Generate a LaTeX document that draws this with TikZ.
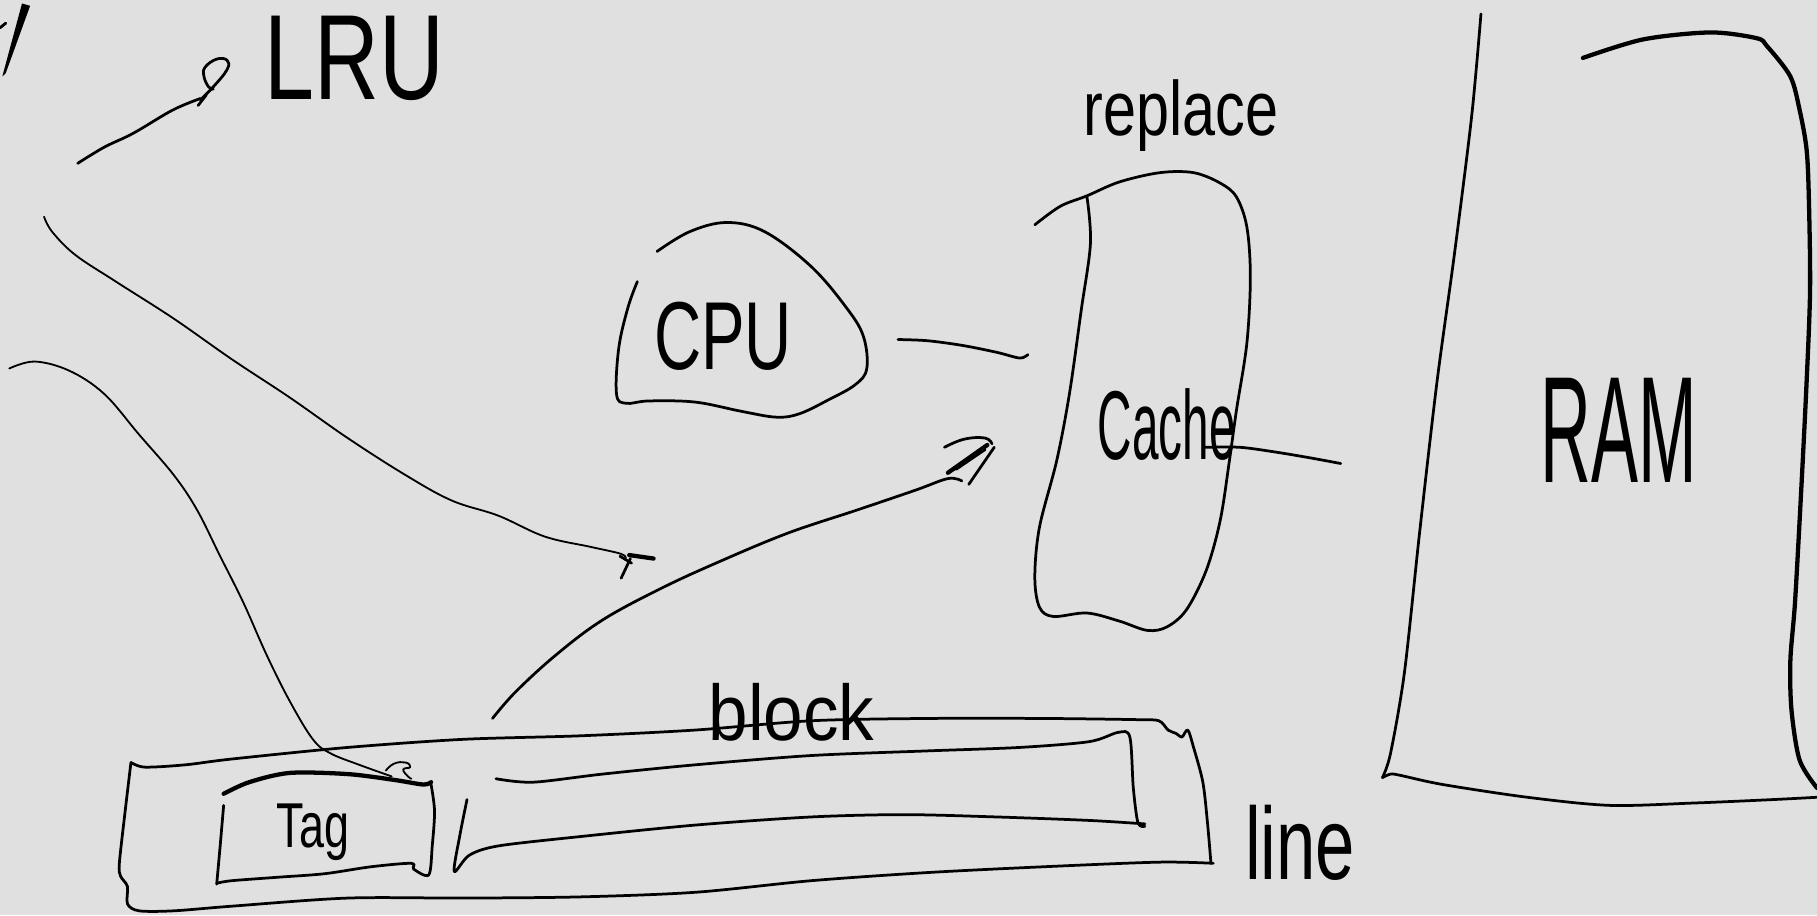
\documentclass[tikz,border=0pt]{standalone}
\usepackage{fontspec}
\setmainfont{Liberation Sans}
\usepackage{graphicx}
\definecolor{paper}{RGB}{224,224,224}
\tikzset{
  ink/.style={line width=1.35pt, line cap=round, line join=round},
  thinink/.style={line width=0.9pt, line cap=round, line join=round},
  thickink/.style={line width=2.1pt, line cap=round, line join=round},
  word/.style={inner sep=0pt, outer sep=0pt}
}
\newcommand{\hw}[3]{\resizebox*{#1}{#2}{#3}}
\begin{document}
\begin{tikzpicture}[x=0.02cm, y=-0.02cm]
\fill[paper] (0,0) rectangle (1568,790);
\useasboundingbox (0,0) rectangle (1568,790);

% top-left mark
\fill (19,3) -- (26,5) -- (5,63) -- (2,66) -- cycle;
\draw[ink] (0,24) -- (5,20);

% LRU pointer
\draw[ink] plot[smooth, tension=0.6] coordinates {(67,141) (90,127) (115,115) (149,95) (173,85)};
\draw[ink] plot[smooth, tension=0.7] coordinates {(173,86) (184,75) (196,60) (196,52) (187,51) (177,58) (176,66) (180,75) (184,77)};
\draw[ink] (171,91) -- (178,82);
\node[word] (lru) at (306,50) {\hw{3.1cm}{1.46cm}{LRU}};

% long curve 1
\draw[thinink] plot[smooth, tension=0.6] coordinates {(38,187) (45,200) (65,220) (100,243) (150,275) (200,310) (250,343) (300,378) (350,410) (390,432) (430,445) (470,463) (510,472) (536,478) (540,482)};
\draw[ink] (544,482) -- (536,499);
\draw[ink] (535,480) -- (545,486);
\draw[thickink] (543,479) -- (564,482);

% long curve 2
\draw[thinink] plot[smooth, tension=0.6] coordinates {(8,318) (30,312) (60,320) (90,340) (120,375) (150,410) (170,440) (190,480) (210,520) (230,565) (250,605) (270,638) (285,650) (310,660) (338,670)};
\draw[thinink] plot[smooth, tension=0.8] coordinates {(333,665) (340,659) (350,658) (354,662) (348,664) (352,670) (355,672)};

% arrow curve 3
\draw[ink] plot[smooth, tension=0.6] coordinates {(425,620) (445,597) (480,565) (520,535) (570,508) (620,485) (680,460) (740,440) (790,423) (818,413) (830,415)};
\draw[ink] plot[smooth, tension=0.7] coordinates {(815,386) (832,379) (850,378) (856,383)};
\draw[thickink] (818,408) -- (852,384);
\draw[ink] (836,418) -- (858,386);
\draw[ink] (825,405) -- (850,388);

% CPU blob
\draw[ink] plot[smooth, tension=0.6] coordinates {(567,217) (595,200) (627,192) (660,200) (700,230) (730,265) (745,290) (748,318) (738,332) (715,345) (690,357) (670,360) (640,355) (600,347) (560,346) (540,348) (532,340) (534,300) (542,265) (550,243)};
\node[word] (cpu) at (624,290) {\hw{2.38cm}{1.18cm}{CPU}};

% CPU - cache line
\draw[ink] plot[smooth, tension=0.5] coordinates {(775,293) (800,294) (830,298) (860,304) (880,309) (887,306)};

% cache shape
\draw[ink] plot[smooth, tension=0.55] coordinates {(893,194) (915,178) (938,169) (966,157) (1001,149) (1030,149) (1053,158) (1067,170) (1076,196) (1079,239) (1076,296) (1067,354) (1061,397) (1053,449) (1041,492) (1024,526) (1007,541) (990,544) (966,536) (938,529) (909,532) (897,524) (893,498) (897,455) (912,397) (923,339) (933,268) (941,210) (938,170)};
\node[word] (cache) at (1007,366) {\hw{2.38cm}{1.24cm}{Cache}};
\node[word] (replace) at (1019,100) {\hw{3.36cm}{1.24cm}{replace}};

% cache - RAM line
\draw[ink] plot[smooth, tension=0.5] coordinates {(1040,386) (1070,386) (1100,390) (1130,395) (1157,400)};

% RAM shape
\draw[ink] plot[smooth, tension=0.5] coordinates {(1278,12) (1270,100) (1255,220) (1240,330) (1225,460) (1212,580) (1200,650) (1193,671)};
\draw[ink] plot[smooth, tension=0.5] coordinates {(1193,671) (1200,668) (1208,669) (1245,677) (1318,688) (1389,695) (1461,693) (1530,690) (1568,688)};
\draw[thickink] plot[smooth, tension=0.5] coordinates {(1366,50) (1418,34) (1476,28) (1516,33) (1525,40) (1545,66) (1553,95) (1559,129) (1561,173) (1562,250) (1559,330) (1554,430) (1549,520) (1545,570) (1546,613) (1553,656) (1568,680)};
\node[word] (ram) at (1397,371) {\hw{2.7cm}{1.8cm}{RAM}};

% outer line box
\draw[ink] plot[smooth, tension=0.5] coordinates {(113,658) (125,662) (160,660) (200,655) (300,645) (400,638) (500,635) (600,630) (700,622) (800,620) (900,620) (980,621) (1000,622) (1008,630) (1015,633) (1020,636) (1025,630) (1030,645) (1038,675) (1042,710) (1045,745)};
\draw[ink] plot[smooth, tension=0.5] coordinates {(1047,745) (1000,744) (900,748) (800,753) (700,760) (600,770) (500,774) (400,775) (300,775) (200,782) (150,786) (120,786) (110,780) (110,765) (104,756) (103,745) (108,700) (113,658)};

% inner block box
\draw[ink] plot[smooth, tension=0.5] coordinates {(428,672) (460,675) (520,668) (600,660) (700,652) (800,648) (880,645) (940,640) (965,632) (975,636) (978,680) (982,710) (988,713)};
\draw[ink] plot[smooth, tension=0.5] coordinates {(988,711) (940,708) (860,705) (780,703) (700,705) (600,712) (500,722) (430,730) (405,738) (392,752) (397,720) (403,690)};

% tag box
\draw[thickink] plot[smooth, tension=0.5] coordinates {(193,685) (215,675) (250,667) (300,668) (340,673) (365,677) (372,675)};
\draw[ink] plot[smooth, tension=0.5] coordinates {(372,677) (375,700) (373,730) (370,755) (357,750) (355,745) (320,748) (280,754) (240,757) (200,760) (188,762)};
\draw[ink] (193,695) -- (190,730) -- (187,763);

\node[word] (tag) at (270,718) {\hw{1.25cm}{0.98cm}{Tag}};
\node[word] (block) at (683,615) {\hw{2.86cm}{1.0cm}{block}};
\node[word] (line) at (1122,727) {\hw{1.9cm}{1.3cm}{line}};
\end{tikzpicture}
\end{document}
